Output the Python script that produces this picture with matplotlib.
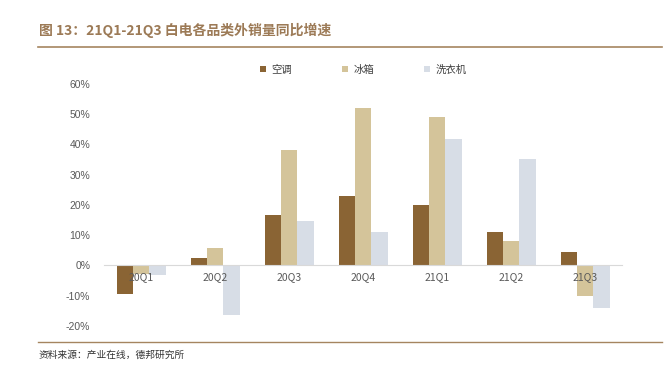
import matplotlib.pyplot as plt
import numpy as np

plt.rcParams['font.family'] = ['Noto Sans CJK SC', 'DejaVu Sans']

quarters = ['20Q1', '20Q2', '20Q3', '20Q4', '21Q1', '21Q2', '21Q3']
series_names = ['空调', '冰箱', '洗衣机']
ac = [-9.5, 2.3, 16.8, 22.8, 19.9, 11.0, 4.5]
fridge = [-3.0, 5.6, 38.3, 52.1, 49.2, 8.0, -10.1]
washer = [-3.2, -16.3, 14.7, 11.2, 41.8, 35.2, -14.2]
colors = ['#8a6434', '#d4c49a', '#d7dde6']

fig = plt.figure(figsize=(6.72, 3.82), dpi=100)
ax = fig.add_axes([0.155, 0.147, 0.771, 0.633])

x = np.arange(len(quarters))
w = 0.22
for i, (vals, name) in enumerate(zip([ac, fridge, washer], series_names)):
    ax.bar(x + (i - 1) * w, vals, w, color=colors[i], label=name, zorder=1)

ax.set_axisbelow(False)
ax.set_xlim(-0.5, len(quarters) - 0.5)
ax.set_ylim(-20, 60)
ax.set_yticks(range(-20, 61, 10))
ax.set_yticklabels([f'{v}%' for v in range(-20, 61, 10)])
ax.set_xticks(x)
ax.set_xticklabels(quarters)
ax.tick_params(axis='both', length=0, labelsize=7.5, colors='#595959')
ax.tick_params(axis='y', pad=10)
ax.tick_params(axis='x', pad=5)
for lbl in ax.get_xticklabels() + ax.get_yticklabels():
    lbl.set_family('Liberation Sans')
for s in ['top', 'right', 'left']:
    ax.spines[s].set_visible(False)
ax.spines['bottom'].set_position(('data', 0))
ax.spines['bottom'].set_color('#d9d9d9')
ax.spines['bottom'].set_linewidth(0.8)

leg = ax.legend(loc='lower center', bbox_to_anchor=(0.5, 1.0), ncol=3,
                frameon=False, fontsize=7.5, handlelength=0.6, handleheight=0.6,
                columnspacing=4.8, handletextpad=0.5)
for t in leg.get_texts():
    t.set_color('#404040')

fig.text(0.058, 0.92, '图 13：21Q1-21Q3 白电各品类外销量同比增速', fontsize=10,
         fontweight='bold', color='#9c7a56', va='center')
fig.add_artist(plt.Line2D([0.057, 0.985], [0.877, 0.877], color='#a58560', lw=1.2))
fig.add_artist(plt.Line2D([0.057, 0.985], [0.105, 0.105], color='#a58560', lw=1.0))
fig.text(0.058, 0.07, '资料来源：产业在线，德邦研究所', fontsize=7, color='#333333',
         va='center')

fig.savefig('out.png', dpi=100)
